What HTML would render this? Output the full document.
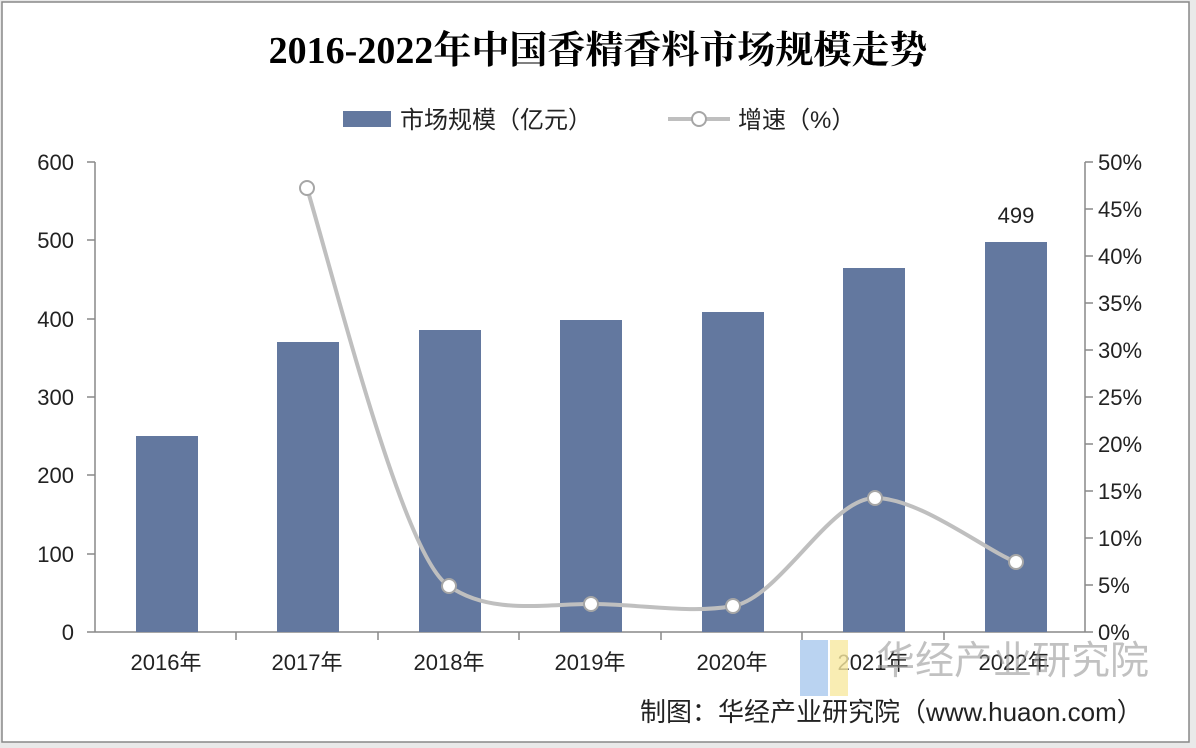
<!DOCTYPE html>
<html><head><meta charset="utf-8"><style>
body{margin:0;background:#e9e9e9;}
svg{display:block}
text{font-family:"Liberation Sans","Noto Sans CJK SC",sans-serif;}
</style></head><body>
<svg width="1196" height="748" viewBox="0 0 1196 748">
<rect x="2" y="2" width="1187" height="740" fill="#fff" stroke="#888" stroke-width="1.5"/>
<text x="598" y="63" text-anchor="middle" font-size="38" font-weight="bold" style="font-family:'Liberation Serif','Noto Serif CJK SC',serif">2016-2022年中国香精香料市场规模走势</text>
<rect x="343" y="111" width="48" height="16" fill="#63789f"/>
<text x="400" y="128" font-size="24" fill="#222">市场规模（亿元）</text>
<line x1="668" y1="119" x2="730" y2="119" stroke="#bfbfbf" stroke-width="4"/>
<circle cx="699" cy="119" r="7" fill="#fff" stroke="#a6a6a6" stroke-width="2"/>
<text x="738" y="128" font-size="24" fill="#222">增速（%）</text>
<g font-size="22" fill="#222" text-anchor="end">
<text x="74" y="640">0</text><text x="74" y="562">100</text><text x="74" y="483">200</text><text x="74" y="405">300</text><text x="74" y="327">400</text><text x="74" y="248">500</text><text x="74" y="170">600</text>
</g>
<g font-size="22" fill="#222" text-anchor="start">
<text x="1098" y="640">0%</text><text x="1098" y="593">5%</text><text x="1098" y="546">10%</text><text x="1098" y="499">15%</text><text x="1098" y="452">20%</text><text x="1098" y="405">25%</text><text x="1098" y="358">30%</text><text x="1098" y="311">35%</text><text x="1098" y="264">40%</text><text x="1098" y="217">45%</text><text x="1098" y="170">50%</text>
</g>
<g stroke="#888" stroke-width="1.5">
<line x1="95" y1="162" x2="95" y2="632"/>
<line x1="1085" y1="162" x2="1085" y2="632"/>
<line x1="95" y1="632" x2="1085" y2="632"/>
<line x1="87" y1="162" x2="95" y2="162"/><line x1="87" y1="240" x2="95" y2="240"/><line x1="87" y1="319" x2="95" y2="319"/><line x1="87" y1="397" x2="95" y2="397"/><line x1="87" y1="475" x2="95" y2="475"/><line x1="87" y1="554" x2="95" y2="554"/><line x1="87" y1="632" x2="95" y2="632"/>
<line x1="1085" y1="162" x2="1093" y2="162"/><line x1="1085" y1="209" x2="1093" y2="209"/><line x1="1085" y1="256" x2="1093" y2="256"/><line x1="1085" y1="303" x2="1093" y2="303"/><line x1="1085" y1="350" x2="1093" y2="350"/><line x1="1085" y1="397" x2="1093" y2="397"/><line x1="1085" y1="444" x2="1093" y2="444"/><line x1="1085" y1="491" x2="1093" y2="491"/><line x1="1085" y1="538" x2="1093" y2="538"/><line x1="1085" y1="585" x2="1093" y2="585"/><line x1="1085" y1="632" x2="1093" y2="632"/>
<line x1="236" y1="632" x2="236" y2="640"/><line x1="378" y1="632" x2="378" y2="640"/><line x1="519" y1="632" x2="519" y2="640"/><line x1="661" y1="632" x2="661" y2="640"/><line x1="802" y1="632" x2="802" y2="640"/><line x1="944" y1="632" x2="944" y2="640"/>
</g>
<g fill="#63789f">
<rect x="136" y="436" width="62" height="196"/>
<rect x="277" y="342" width="62" height="290"/>
<rect x="419" y="330" width="62" height="302"/>
<rect x="560" y="320" width="62" height="312"/>
<rect x="702" y="312" width="62" height="320"/>
<rect x="843" y="268" width="62" height="364"/>
<rect x="985" y="242" width="62" height="390"/>
</g>
<text x="1016" y="223" text-anchor="middle" font-size="22" fill="#222">499</text>
<path d="M307,188 C340,300 405,560 449,586 C490,615 545,604 591,604 C640,604 690,614 733,606 C780,598 830,498 875,498 C920,498 985,550 1016,562" fill="none" stroke="#bfbfbf" stroke-width="4"/>
<g fill="#fff" stroke="#a6a6a6" stroke-width="2">
<circle cx="307" cy="188" r="7"/><circle cx="449" cy="586" r="7"/><circle cx="591" cy="604" r="7"/><circle cx="733" cy="606" r="7"/><circle cx="875" cy="498" r="7"/><circle cx="1016" cy="562" r="7"/>
</g>
<g font-size="22" fill="#222" text-anchor="middle">
<text x="166" y="670">2016年</text><text x="307" y="670">2017年</text><text x="449" y="670">2018年</text><text x="590" y="670">2019年</text><text x="732" y="670">2020年</text><text x="873" y="670">2021年</text><text x="1014" y="670">2022年</text>
</g>
<rect x="800" y="640" width="28" height="56" fill="#a9c8ee" opacity="0.8"/>
<rect x="830" y="640" width="18" height="56" fill="#f7e9a0" opacity="0.8"/>
<text x="876" y="674" font-size="39" fill="#999" opacity="0.6">华经产业研究院</text>
<text x="640" y="721" font-size="26" fill="#222">制图：华经产业研究院（www.huaon.com）</text>
</svg>
</body></html>
